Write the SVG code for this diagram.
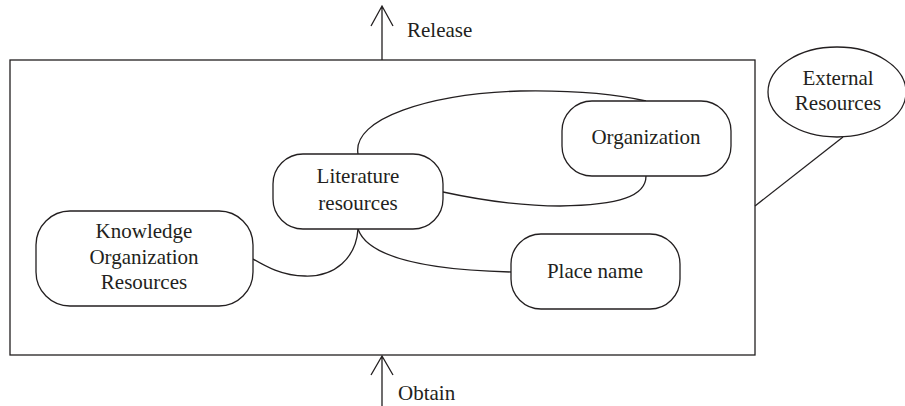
<svg xmlns="http://www.w3.org/2000/svg" width="905" height="406" viewBox="0 0 905 406">
  <style>
    .box { fill: #fff; stroke: #231f20; stroke-width: 1.3; }
    .line { fill: none; stroke: #231f20; stroke-width: 1.3; }
    text { font-family: "Liberation Serif", "Times New Roman", serif; font-size: 21px; fill: #231f20; }
    .c { text-anchor: middle; }
  </style>

  <!-- system boundary -->
  <rect id="system" x="10" y="60" width="745" height="295" fill="#fff" stroke="#231f20" stroke-width="1.3"/>

  <g id="connectors">
    <!-- Literature resources to Organization (top arc) -->
    <path class="line" d="M358,154 C352,118 430,94 520,91 C580,90 620,95 646,101"/>
    <!-- Literature resources to Organization (lower arc) -->
    <path class="line" d="M443,192 C480,200 520,206 560,206 C620,205 646,196 646,176"/>
    <!-- Literature resources to Knowledge Organization Resources -->
    <path class="line" d="M358,229 C356,258 335,277 305,276 C282,276 265,266 253,259"/>
    <!-- Literature resources to Place name -->
    <path class="line" d="M358,229 C368,258 430,270 511,272"/>
    <!-- External Resources to system -->
    <path class="line" d="M843,137 L755,206"/>
    <!-- Release arrow -->
    <path class="line" d="M382,60 L382,6 M371,26 L382,6 L393,26"/>
    <!-- Obtain arrow -->
    <path class="line" d="M382,406 L382,356 M371,375 L382,356 L393,375"/>
  </g>

  <g id="literature">
    <rect class="box" x="273" y="154" width="170" height="75" rx="30" ry="30"/>
    <text class="c" x="358" y="183">Literature</text>
    <text class="c" x="358" y="210">resources</text>
  </g>

  <g id="organization">
    <rect class="box" x="562" y="101" width="169" height="75" rx="30" ry="30"/>
    <text class="c" x="646" y="144">Organization</text>
  </g>

  <g id="knowledge">
    <rect class="box" x="36" y="211" width="217" height="95" rx="34" ry="34"/>
    <text class="c" x="144" y="238">Knowledge</text>
    <text class="c" x="144" y="264">Organization</text>
    <text class="c" x="144" y="289">Resources</text>
  </g>

  <g id="placename">
    <rect class="box" x="511" y="234" width="169" height="75" rx="30" ry="30"/>
    <text class="c" x="595" y="278">Place name</text>
  </g>

  <g id="external">
    <ellipse class="box" cx="837" cy="92" rx="69" ry="45"/>
    <text class="c" x="838" y="85">External</text>
    <text class="c" x="838" y="110">Resources</text>
  </g>

  <g id="labels">
    <text x="407" y="37">Release</text>
    <text x="398" y="400">Obtain</text>
  </g>
</svg>
